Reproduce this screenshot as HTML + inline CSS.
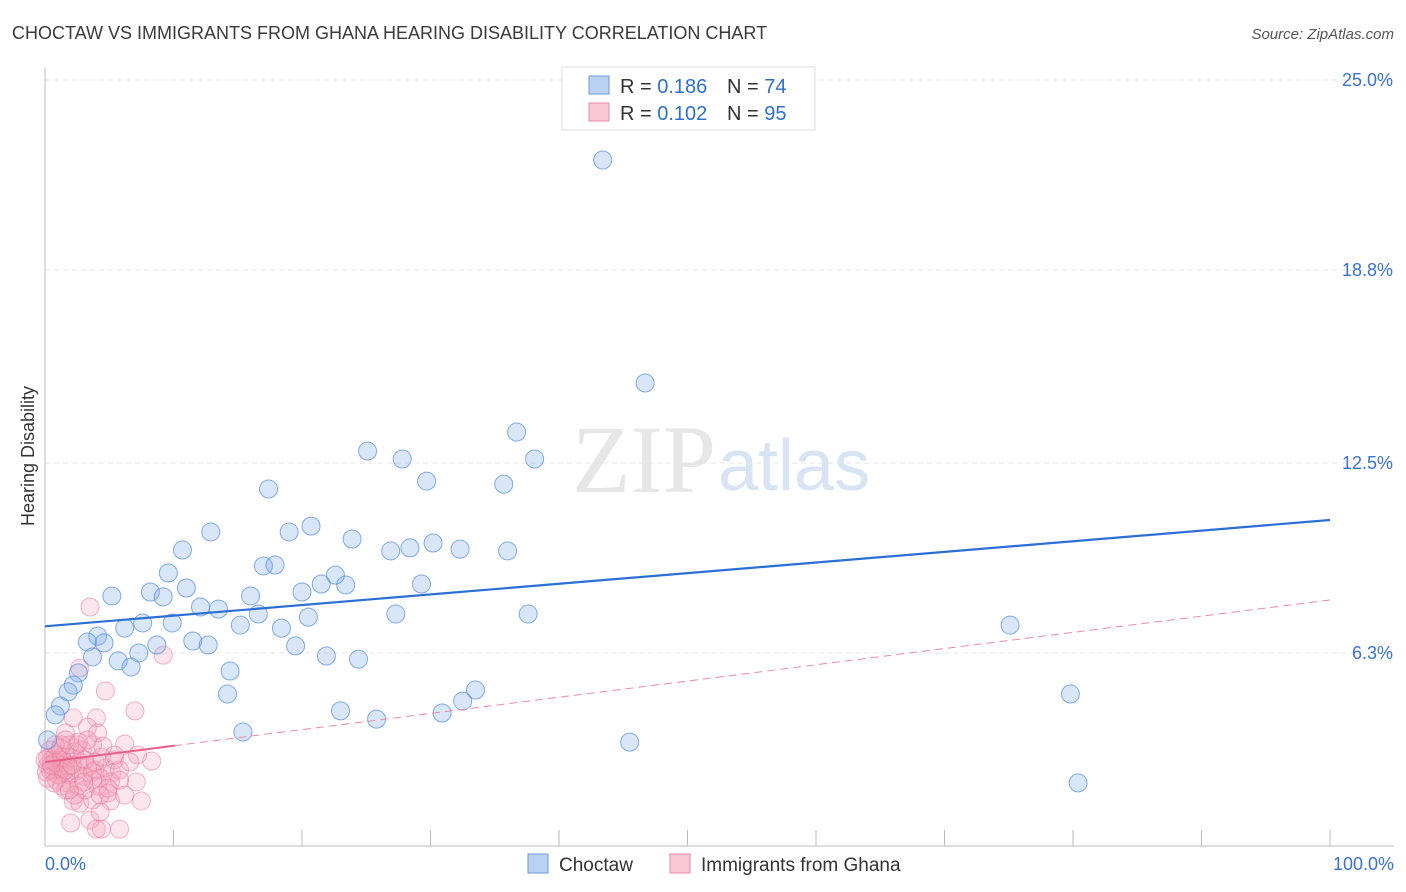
<!DOCTYPE html>
<html><head><meta charset="utf-8">
<style>
body{margin:0;background:#fff;font-family:"Liberation Sans",sans-serif;}
#wrap{position:relative;width:1406px;height:892px;overflow:hidden;}
</style></head>
<body>
<div id="wrap">
<svg id="chart" width="1406" height="892" xmlns="http://www.w3.org/2000/svg">
<text x="12" y="39" font-size="18" fill="#3a3a3a">CHOCTAW VS IMMIGRANTS FROM GHANA HEARING DISABILITY CORRELATION CHART</text>
<text x="1394" y="39" font-size="15" fill="#555" text-anchor="end" font-style="italic">Source: ZipAtlas.com</text>
<text x="716" y="492" font-size="96" fill="#e6e6e6" font-family="Liberation Serif,serif" text-anchor="end">ZIP</text>
<text x="718" y="490" font-size="72" fill="#d8e4f4" text-anchor="start">atlas</text>
<text transform="translate(34,456) rotate(-90)" font-size="18" fill="#333" text-anchor="middle">Hearing Disability</text>
<g id="grid"></g><g id="axes"></g><g id="pink"></g><g id="blue"></g><g id="lines"></g>
<g>
<rect x="562" y="67" width="253" height="63" fill="#fff" stroke="#ddd"/>
<rect x="589" y="76" width="20" height="18" fill="#b9d2f3" stroke="#6f9ad8"/>
<text x="620" y="93" font-size="20" fill="#333">R = <tspan fill="#2f6fd0">0.186</tspan></text>
<text x="727" y="93" font-size="20" fill="#333">N = <tspan fill="#2f6fd0">74</tspan></text>
<rect x="589" y="103" width="20" height="18" fill="#f8c6d4" stroke="#e98aa8"/>
<text x="620" y="120" font-size="20" fill="#333">R = <tspan fill="#2f6fd0">0.102</tspan></text>
<text x="727" y="120" font-size="20" fill="#333">N = <tspan fill="#2f6fd0">95</tspan></text>
</g>
<g>
<rect x="528" y="854" width="20" height="19" fill="#b9d2f3" stroke="#6f9ad8"/>
<text x="559" y="871" font-size="19" fill="#333">Choctaw</text>
<rect x="670" y="854" width="20" height="19" fill="#f8c6d4" stroke="#e98aa8"/>
<text x="701" y="871" font-size="19" fill="#333">Immigrants from Ghana</text>
</g>
</svg>
</div>
<script>
const yTicks=[25.0,18.8,12.5,6.3];
const yTickLabels=["25.0%","18.8%","12.5%","6.3%"];
const xTickLabels=["0.0%","100.0%"];
const blueX=[43.4,46.7,36.7,25.1,27.8,38.1,29.7,35.7,17.4,12.9,19.0,20.7,23.9,10.7,26.9,28.4,30.2,32.3,36.0,17.0,17.9,9.6,21.5,22.6,23.4,29.3,20.0,8.2,11.0,5.2,9.2,16.0,12.1,13.5,16.6,20.5,27.3,37.6,7.6,9.9,6.2,15.2,18.4,4.1,3.3,4.6,11.5,12.7,8.7,19.5,75.1,7.3,3.7,5.7,6.7,21.9,24.4,14.4,2.6,2.2,1.8,33.5,14.2,32.5,79.8,1.2,0.8,23.0,30.9,25.8,15.4,45.5,0.2,80.4];
const blueY=[22.39,15.11,13.51,12.89,12.63,12.63,11.91,11.81,11.65,10.25,10.25,10.44,10.02,9.66,9.63,9.73,9.89,9.69,9.63,9.14,9.17,8.91,8.55,8.84,8.52,8.55,8.29,8.29,8.42,8.16,8.13,8.16,7.80,7.73,7.57,7.47,7.57,7.57,7.28,7.28,7.11,7.21,7.11,6.85,6.66,6.63,6.69,6.56,6.56,6.53,7.21,6.30,6.17,6.04,5.84,6.20,6.10,5.71,5.65,5.25,5.03,5.09,4.96,4.73,4.96,4.57,4.28,4.41,4.34,4.14,3.72,3.39,3.46,2.06];
const pinkX=[3.5,2.7,9.2,4.7,7.0,2.2,4.0,3.3,1.6,4.1,6.2,1.3,2.5,3.7,4.5,7.2,8.3,0.4,0.8,1.2,1.6,2.1,2.7,3.3,3.9,4.7,5.2,0.2,0.6,1.0,1.4,1.9,2.4,3.0,3.7,4.3,5.1,7.1,0.9,1.7,2.6,4.1,4.9,5.1,2.2,2.7,3.7,7.5,2.0,3.5,4.0,4.4,5.8,0.5,0.2,0.8,1.3,1.8,2.3,2.9,0.4,1.0,1.6,2.1,3.1,3.9,4.4,5.4,5.8,0.0,0.1,0.5,1.2,1.9,2.6,3.3,0.8,1.6,3.7,3.1,2.3,1.6,4.3,5.8,6.6,0.2,0.7,1.3,1.9,3.0,4.3,4.9,5.4,6.2];
const pinkY=[7.80,5.81,6.23,5.06,4.41,4.18,4.18,3.88,3.69,3.69,3.33,3.30,3.30,3.30,3.26,2.97,2.77,3.13,2.97,2.81,2.71,2.87,2.74,2.58,2.48,2.55,2.38,2.64,2.48,2.55,2.42,2.32,2.45,2.28,2.42,2.22,2.09,2.09,2.15,2.06,1.96,1.96,1.73,1.47,1.47,1.40,1.50,1.47,0.75,0.85,0.55,0.55,0.55,2.81,2.87,2.74,2.90,2.61,3.07,3.13,2.48,2.32,2.48,2.64,2.81,2.74,2.90,2.81,2.48,2.81,2.42,2.64,3.20,3.30,3.39,3.46,3.30,3.46,2.15,1.83,1.66,1.83,1.66,2.15,2.74,2.22,2.06,1.96,1.83,2.09,1.11,1.89,2.97,1.66];
const blueTrend=[7.17,10.64];
const pinkTrend=[2.74,8.03];
const pinkSolidEnd=10.1;

const X0=45,X1=1330,Y0=846,Y25=80;
const sx=v=>X0+(X1-X0)*v/100;
const sy=v=>Y0-(Y0-Y25)*v/25;
const NS="http://www.w3.org/2000/svg";
function mk(tag,attrs,parent){const e=document.createElementNS(NS,tag);for(const k in attrs)e.setAttribute(k,attrs[k]);parent.appendChild(e);return e;}
const grid=document.getElementById('grid'),axes=document.getElementById('axes');
yTicks.forEach((t,i)=>{
 const l=mk('line',{x1:X0,x2:1394,y1:sy(t),y2:sy(t),stroke:'#e4e4e4','stroke-dasharray':'5,4'},grid);
 
 
 const tx=mk('text',{x:1393,y:sy(t)+6,'font-size':18,fill:'#3a72d0','text-anchor':'end'},axes);
 tx.textContent=yTickLabels[i];
 
 
});
const ya=mk('line',{x1:X0,x2:X0,y1:68,y2:Y0,stroke:'#bbb'},axes);


const xa=mk('line',{x1:X0,x2:1394,y1:Y0,y2:Y0,stroke:'#bbb'},axes);


for(let i=0;i<=10;i++){
 const t=mk('line',{x1:sx(i*10),x2:sx(i*10),y1:830,y2:Y0,stroke:'#bbb'},axes);
 
 
}
[[0,'start',45],[100,'end',1394]].forEach((d,i)=>{
 const tx=mk('text',{x:d[2],y:870,'font-size':18,fill:'#3a72d0','text-anchor':d[1]},axes);
 tx.textContent=xTickLabels[i];
 
 
});
function pts(xs,ys,g,fill,stroke,name){
 xs.forEach((x,i)=>{
  const c=mk('circle',{cx:sx(x),cy:sy(ys[i]),r:9,fill:fill,stroke:stroke,'stroke-width':1},g);
  
  
 });
}
pts(pinkX,pinkY,document.getElementById('pink'),'rgba(244,160,188,0.28)','rgba(232,120,158,0.55)','ghana-point');
pts(blueX,blueY,document.getElementById('blue'),'rgba(130,172,232,0.3)','rgba(80,140,220,0.7)','choctaw-point');
const lg=document.getElementById('lines');
const bl=mk('line',{x1:sx(0),y1:sy(blueTrend[0]),x2:sx(100),y2:sy(blueTrend[1]),stroke:'#2a6fd6','stroke-width':2.2},lg);


const pAt=x=>pinkTrend[0]+(pinkTrend[1]-pinkTrend[0])*x/100;
const pd=mk('line',{x1:sx(0),y1:sy(pinkTrend[0]),x2:sx(100),y2:sy(pinkTrend[1]),stroke:'#ec8aa8','stroke-width':1,'stroke-dasharray':'8,5'},lg);


const ps=mk('line',{x1:sx(0),y1:sy(pinkTrend[0]),x2:sx(pinkSolidEnd),y2:sy(pAt(pinkSolidEnd)),stroke:'#e8608a','stroke-width':2},lg);


</script>
</body></html>
